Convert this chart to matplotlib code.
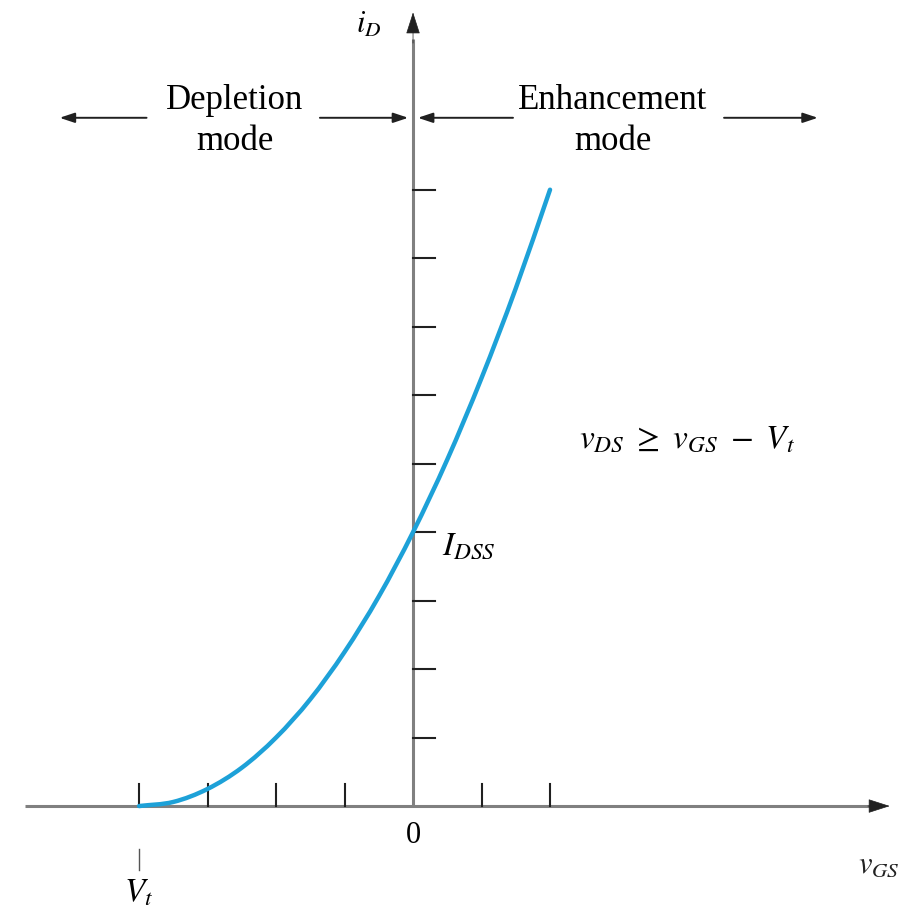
import matplotlib
matplotlib.use("Agg")
import matplotlib.pyplot as plt
import numpy as np
from matplotlib.path import Path
from matplotlib.patches import PathPatch

plt.rcParams['font.family'] = ['Liberation Serif', 'DejaVu Serif']
plt.rcParams['mathtext.fontset'] = 'stix'

# transfer characteristic of a depletion-type MOSFET, read at half-volt steps
v_gs = [-4, -3.5, -3, -2.5, -2, -1.5, -1, -0.5, 0, 0.5, 1, 1.5, 2]
i_d = [0, 0.06, 0.25, 0.56, 1.0, 1.56, 2.25, 3.06, 4.0, 5.06, 6.25, 7.56, 9.0]

x_ticks = [-4, -3, -2, -1, 1, 2]
y_ticks = [1, 2, 3, 4, 5, 6, 7, 8, 9]
v_t = -4
i_dss = 4

axis_gray = '#808080'
curve_blue = '#1da1d8'


def smooth_path(xs, ys):
    # cubic bezier segments through the points, tangents from finite differences
    xs = np.asarray(xs, float)
    ys = np.asarray(ys, float)
    m = np.gradient(ys, xs)
    verts = [(xs[0], ys[0])]
    codes = [Path.MOVETO]
    for k in range(len(xs) - 1):
        h = xs[k + 1] - xs[k]
        verts += [(xs[k] + h / 3, ys[k] + m[k] * h / 3),
                  (xs[k + 1] - h / 3, ys[k + 1] - m[k + 1] * h / 3),
                  (xs[k + 1], ys[k + 1])]
        codes += [Path.CURVE4] * 3
    return Path(verts, codes)


fig = plt.figure(figsize=(9.11, 9.17), dpi=100)
ax = fig.add_axes([0, 0, 1, 1])
ax.set_xlim(-6.03, 7.27)
ax.set_ylim(-1.62, 11.77)
ax.axis('off')

# axes with arrowheads
ax.plot([-5.66, 6.8], [0, 0], color=axis_gray, lw=2.2, solid_capstyle='butt')
ax.annotate('', xy=(7.0, 0), xytext=(6.6, 0),
            arrowprops=dict(arrowstyle='-|>,head_length=1.4,head_width=0.45',
                            color='#202020', lw=0.5))
ax.plot([0, 0], [0, 11.2], color=axis_gray, lw=2.2, solid_capstyle='butt')
ax.annotate('', xy=(0, 11.63), xytext=(0, 11.1),
            arrowprops=dict(arrowstyle='-|>,head_length=1.4,head_width=0.45',
                            color='#202020', lw=0.5))

# tick marks
tick_len = 0.32
for t in x_ticks:
    ax.plot([t, t], [0, tick_len], color='#202020', lw=1.5)
for t in y_ticks:
    ax.plot([0, tick_len], [t, t], color='#202020', lw=1.5)

# curve
ax.add_patch(PathPatch(smooth_path(v_gs, i_d), facecolor='none',
                       edgecolor=curve_blue, lw=3.2, capstyle='round', zorder=3))

# labels
ax.text(0, -0.22, '0', ha='center', va='top', fontsize=22)
ax.text(6.8, -0.65, r'$v_{GS}$', ha='center', va='top', fontsize=22, color='#222222')
ax.plot([v_t, v_t], [-0.62, -0.93], color='#555555', lw=1)
ax.text(v_t, -1.05, r'$V_t$', ha='center', va='top', fontsize=24)
ax.text(0.42, i_dss - 0.2, r'$I_{DSS}$', ha='left', va='center', fontsize=24)
ax.text(4.0, 5.35, r'$v_{DS}\ \geq\ v_{GS}\ -\ V_t$', ha='center', va='center', fontsize=24)
ax.text(-0.65, 11.4, r'$i_D$', ha='center', va='center', fontsize=22)

# mode regions
arrow_y = 10.05
arrow_kw = dict(arrowstyle='-|>,head_length=0.9,head_width=0.3', color='#202020', lw=1.4)
ax.annotate('', xy=(-5.2, arrow_y), xytext=(-3.85, arrow_y), arrowprops=arrow_kw)
ax.annotate('', xy=(-0.03, arrow_y), xytext=(-1.4, arrow_y), arrowprops=arrow_kw)
ax.annotate('', xy=(0.03, arrow_y), xytext=(1.5, arrow_y), arrowprops=arrow_kw)
ax.annotate('', xy=(5.95, arrow_y), xytext=(4.5, arrow_y), arrowprops=arrow_kw)
ax.text(-2.6, 10.3, 'Depletion', ha='center', va='center', fontsize=25)
ax.text(-2.6, 9.7, 'mode', ha='center', va='center', fontsize=25)
ax.text(2.92, 10.3, 'Enhancement', ha='center', va='center', fontsize=25)
ax.text(2.92, 9.7, 'mode', ha='center', va='center', fontsize=25)

fig.savefig('out.png', dpi=100)
